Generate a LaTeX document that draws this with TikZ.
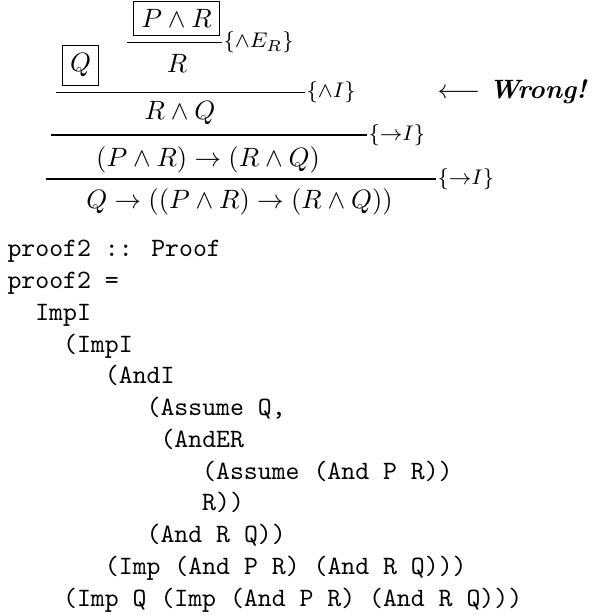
\documentclass[tikz,border=0pt]{standalone}
\usetikzlibrary{positioning}
\tikzset{
  every picture/.style={x=0.3774pt, y=-0.3774pt, line width=0.4pt},
  fml/.style={anchor=base, inner sep=0pt},
  hyp/.style={fml, draw, inner sep=3pt},
  infer/.style={line width=0.4pt},
  lbl/.style={anchor=west, font=\footnotesize, inner sep=0.4pt},
  code/.style={anchor=base west, inner sep=0pt, font=\ttfamily},
}
\begin{document}
\begin{tikzpicture}
  \useasboundingbox (0,0) rectangle (592,615);
  % the derivation, assumptions boxed
  \node[hyp] (pr) at (176.5,28) {$P \wedge R$};
  \coordinate (e1w) at (127,42.7);
  \coordinate (e1e) at (222,42.7);
  \draw[infer] (e1w) -- (e1e) node[lbl] (e1) {$\{\wedge E_R\}$};
  \node[fml] (r) at (177,72.7) {$R$};
  \node[hyp] (q) at (80.5,72) {$Q$};
  \coordinate (i1w) at (56,92.7);
  \coordinate (i1e) at (305,92.7);
  \draw[infer] (i1w) -- (i1e) node[lbl] (i1) {$\{\wedge I\}$};
  \node[fml] (rq) at (180,120) {$R \wedge Q$};
  \coordinate (i2w) at (51,135);
  \coordinate (i2e) at (367,135);
  \draw[infer] (i2w) -- (i2e) node[lbl] (i2) {$\{{\to}I\}$};
  \node[fml] (imp1) at (208,166.7) {$(P \wedge R) \to (R \wedge Q)$};
  \coordinate (i3w) at (45.7,179);
  \coordinate (i3e) at (436,179);
  \draw[infer] (i3w) -- (i3e) node[lbl] (i3) {$\{{\to}I\}$};
  \node[fml] (imp2) at (239.5,208) {$Q \to ((P \wedge R) \to (R \wedge Q))$};
  \node[anchor=base west, inner sep=0pt] (wrong) at (437,99) {$\longleftarrow$ \textbf{\textit{Wrong!}}};
  % the same proof as a term
  \node[code] (c1) at (7,256.7) {proof2 :: Proof};
  \node[code] (c2) at (7,288.5) {proof2 =};
  \node[code] (c3) at (34.8,320.2) {ImpI};
  \node[code] (c4) at (62.6,352) {(ImpI};
  \node[code] (c5) at (104.4,383.7) {(AndI};
  \node[code] (c6) at (146.1,415.5) {(Assume Q,};
  \node[code] (c7) at (160,447.2) {(AndER};
  \node[code] (c8) at (201.7,479) {(Assume (And P R))};
  \node[code] (c9) at (201.7,510.7) {R))};
  \node[code] (c10) at (146.1,542.5) {(And R Q))};
  \node[code] (c11) at (104.4,574.2) {(Imp (And P R) (And R Q)))};
  \node[code] (c12) at (62.6,606) {(Imp Q (Imp (And P R) (And R Q)))};
\end{tikzpicture}
\end{document}
